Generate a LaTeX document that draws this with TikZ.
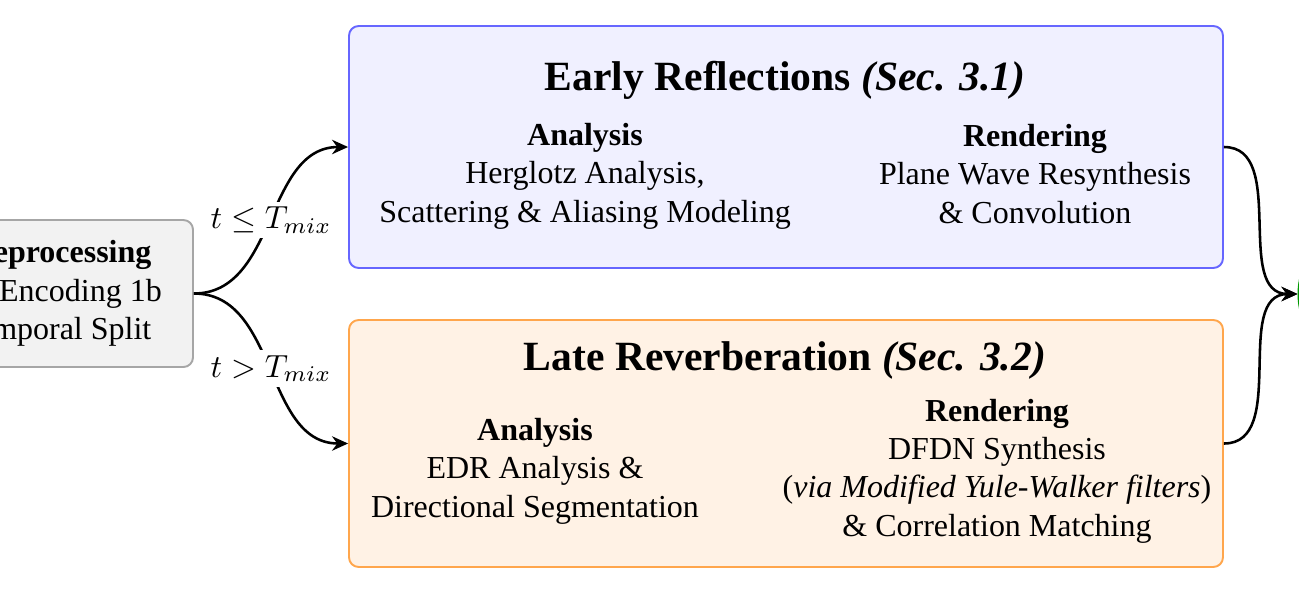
\documentclass[tikz,border=0pt]{standalone}
\usepackage{fontspec}
\setmainfont{Liberation Serif}
\usetikzlibrary{arrows.meta}
\newcommand{\Tmix}      {T_{mix}}
\newcommand{\hd}[1]     {\textbf{#1}}

\begin{document}
\begin{tikzpicture}[x=0.010985cm, y=-0.010985cm,
   stage/.style={draw, line width=0.6pt, rounded corners=3pt, minimum width=9.601cm},
   erbox/.style={stage, draw=blue!60, fill=blue!6, minimum height=2.658cm},
   lrbox/.style={stage, draw=orange!70, fill=orange!10, minimum height=2.713cm},
   prebox/.style={draw=gray!70, line width=0.6pt, fill=gray!10, rounded corners=3pt,
                  minimum width=3.01cm, minimum height=1.615cm, align=center},
   outbox/.style={circle, draw=green!60!black, line width=0.6pt, fill=green!8, minimum size=1.6cm},
   title/.style={font=\bfseries\fontsize{13}{15}\selectfont},
   part/.style={align=center, font=\fontsize{10}{12}\selectfont},
   flow/.style={thick, -{Stealth[length=5pt,width=4.5pt]}},
   cond/.style={fill=white, inner sep=1.5pt, font=\fontsize{9.6}{11}\selectfont}]
   \useasboundingbox (0,0) rectangle (1299,594);
   % boxes
   \node[prebox] (pre) at (  56, 293.5) {\hd{Preprocessing}\\SH Encoding 1b\\Temporal Split};
   \node[erbox] (er) at ( 786, 147  ) {};
   \node[lrbox] (lr) at ( 786, 443.5) {};
   \node[outbox, anchor=west] (out) at (1297.5, 294) {};
   % early reflections
   \node[title] (ertitle) at ( 785,  80) {Early Reflections \textit{(Sec. 3.1)}};
   \node[part] (erana) at ( 585, 176) {\hd{Analysis}\\Herglotz Analysis,\\Scattering \& Aliasing Modeling};
   \node[part] (erren) at (1035, 174) {\hd{Rendering}\\Plane Wave Resynthesis\\\& Convolution};
   % late reverberation
   \node[title] (lrtitle) at ( 785, 360) {Late Reverberation \textit{(Sec. 3.2)}};
   \node[part] (lrana) at ( 535, 471) {\hd{Analysis}\\EDR Analysis \&\\Directional Segmentation};
   \node[part] (lrren) at ( 997, 471) {\hd{Rendering}\\DFDN Synthesis\\(\textit{via Modified Yule-Walker filters})\\\& Correlation Matching};
   % connectors
   \draw[flow] (pre.east) to[out=0,in=180] node[cond]{$t \leq \Tmix$} (er.west);
   \draw[flow] (pre.east) to[out=0,in=180] node[cond]{$t > \Tmix$} (lr.west);
   \draw[flow] (er.east) to[out=0,in=180] (out.west);
   \draw[flow] (lr.east) to[out=0,in=180] (out.west);
\end{tikzpicture}
\end{document}
